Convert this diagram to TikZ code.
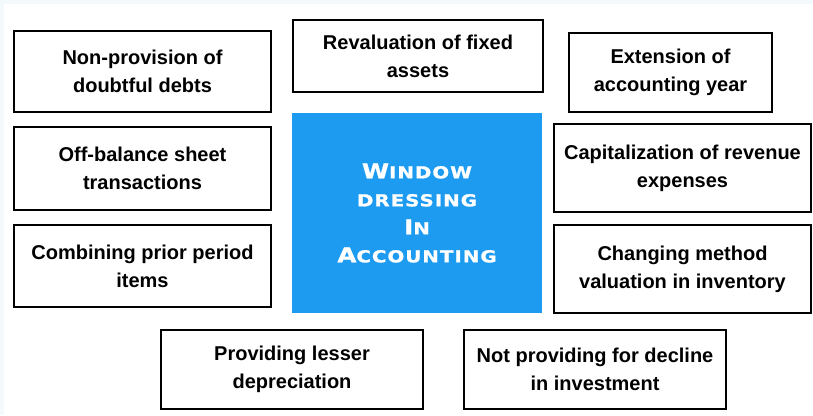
\documentclass[tikz,border=0pt]{standalone}
\usepackage{fontspec}
\setmainfont{Liberation Sans}
\newfontfamily\titlefont{DejaVu Sans Bold}[FakeStretch=1.2, LetterSpace=6, FakeBold=1.2]
\definecolor{panelblue}{RGB}{28,155,240}
\definecolor{pagetint}{RGB}{244,249,252}
% small-caps style word: large initial, smaller capitals after it
\newcommand\capword[2]{{\fontsize{20.5}{28}\selectfont #1}{\fontsize{16.5}{28}\selectfont #2}}
\tikzset{
  itembox/.style={draw=black, line width=2.7pt, fill=white, align=center,
    inner sep=0pt, font=\fontsize{20}{28}\selectfont\bfseries},
  centrebox/.style={fill=panelblue, draw=none, align=center, inner sep=0pt,
    text=white, font=\titlefont\fontsize{16.5}{28}\selectfont}
}
\begin{document}
\begin{tikzpicture}[x=1pt, y=-1pt]
  \useasboundingbox (0,0) rectangle (813,415);
  \fill[pagetint] (0,0) rectangle (813,415);
  \fill[white] (4,4) rectangle (813,415);

  % left column
  \node[itembox, minimum width=257pt, minimum height=81pt] (npd) at (142.5,71.5)
    {Non-provision of\\doubtful debts};
  \node[itembox, minimum width=257pt, minimum height=83pt] (obs) at (142.5,168.5)
    {Off-balance sheet\\transactions};
  \node[itembox, minimum width=257pt, minimum height=82pt] (cpp) at (142.5,266)
    {Combining prior period\\items};

  % top middle
  \node[itembox, minimum width=250pt, minimum height=72pt] (rfa) at (418,56)
    {Revaluation of fixed\\assets};

  % right column
  \node[itembox, minimum width=203pt, minimum height=79pt] (eay) at (670.5,72.5)
    {Extension of\\accounting year};
  \node[itembox, minimum width=257pt, minimum height=88pt] (cre) at (682.5,168)
    {Capitalization of revenue\\expenses};
  \node[itembox, minimum width=257pt, minimum height=88pt] (cmv) at (682.5,269)
    {Changing method\\valuation in inventory};

  % bottom row
  \node[itembox, minimum width=262pt, minimum height=79pt] (pld) at (292,369.5)
    {Providing lesser\\depreciation};
  \node[itembox, minimum width=262pt, minimum height=79pt] (npi) at (595,369.5)
    {Not providing for decline\\in investment};

  % central panel
  \node[centrebox, minimum width=250pt, minimum height=200pt] (wda) at (417,213)
    {\capword{W}{INDOW}\\\capword{}{DRESSING}\\\capword{I}{N}\\\capword{A}{CCOUNTING}};
\end{tikzpicture}
\end{document}
